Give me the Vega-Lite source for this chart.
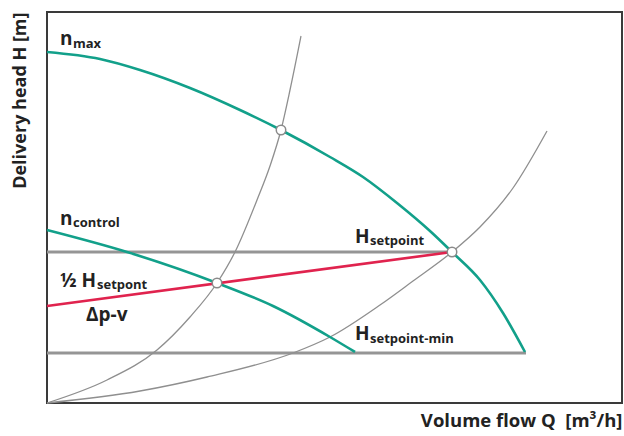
{
  "$schema": "https://vega.github.io/schema/vega-lite/v6.json",
  "width": 575,
  "height": 391,
  "autosize": {"type": "none"},
  "padding": {"left": 47, "top": 12, "right": 2, "bottom": 33},
  "background": "white",
  "config": {
    "view": {"stroke": "#3a3a3a", "strokeWidth": 2},
    "font": "Open Sans"
  },
  "datasets": {
    "curves": [
      {"series": "nmax", "Q": 0, "H": 351},
      {"series": "nmax", "Q": 53, "H": 344},
      {"series": "nmax", "Q": 93, "H": 333},
      {"series": "nmax", "Q": 143, "H": 315},
      {"series": "nmax", "Q": 193, "H": 293},
      {"series": "nmax", "Q": 234, "H": 273},
      {"series": "nmax", "Q": 283, "H": 246},
      {"series": "nmax", "Q": 316, "H": 226},
      {"series": "nmax", "Q": 350, "H": 200},
      {"series": "nmax", "Q": 383, "H": 172},
      {"series": "nmax", "Q": 405, "H": 151},
      {"series": "nmax", "Q": 433, "H": 123},
      {"series": "nmax", "Q": 456, "H": 90},
      {"series": "nmax", "Q": 478, "H": 51},
      {"series": "ncontrol", "Q": 0, "H": 173},
      {"series": "ncontrol", "Q": 80, "H": 151},
      {"series": "ncontrol", "Q": 170, "H": 120},
      {"series": "ncontrol", "Q": 226, "H": 97},
      {"series": "ncontrol", "Q": 283, "H": 66},
      {"series": "ncontrol", "Q": 308, "H": 51},
      {"series": "dpv", "Q": 0, "H": 97},
      {"series": "dpv", "Q": 405, "H": 151},
      {"series": "hset", "Q": 0, "H": 151},
      {"series": "hset", "Q": 405, "H": 151},
      {"series": "hmin", "Q": 0, "H": 50},
      {"series": "hmin", "Q": 479, "H": 50},
      {"series": "sys1", "Q": 0, "H": 0},
      {"series": "sys1", "Q": 60, "H": 23},
      {"series": "sys1", "Q": 110, "H": 53},
      {"series": "sys1", "Q": 143, "H": 86},
      {"series": "sys1", "Q": 170, "H": 120},
      {"series": "sys1", "Q": 188, "H": 151},
      {"series": "sys1", "Q": 210, "H": 203},
      {"series": "sys1", "Q": 223, "H": 237},
      {"series": "sys1", "Q": 234, "H": 273},
      {"series": "sys1", "Q": 243, "H": 313},
      {"series": "sys1", "Q": 254, "H": 367},
      {"series": "sys2", "Q": 0, "H": 0},
      {"series": "sys2", "Q": 93, "H": 12},
      {"series": "sys2", "Q": 160, "H": 26},
      {"series": "sys2", "Q": 246, "H": 50},
      {"series": "sys2", "Q": 283, "H": 66},
      {"series": "sys2", "Q": 333, "H": 98},
      {"series": "sys2", "Q": 366, "H": 122},
      {"series": "sys2", "Q": 405, "H": 151},
      {"series": "sys2", "Q": 433, "H": 176},
      {"series": "sys2", "Q": 466, "H": 215},
      {"series": "sys2", "Q": 500, "H": 272}
    ],
    "points": [
      {"Q": 234, "H": 273},
      {"Q": 170, "H": 120},
      {"Q": 405, "H": 151}
    ],
    "mainLabels": [
      {"Q": 13, "H": 358, "text": "n"},
      {"Q": 13, "H": 178, "text": "n"},
      {"Q": 13, "H": 116, "text": "½ H"},
      {"Q": 39, "H": 82, "text": "Δp-v"},
      {"Q": 308, "H": 160, "text": "H"},
      {"Q": 308, "H": 63, "text": "H"}
    ],
    "subLabels": [
      {"Q": 26, "H": 355, "text": "max"},
      {"Q": 26, "H": 176, "text": "control"},
      {"Q": 50, "H": 114, "text": "setpont"},
      {"Q": 323, "H": 158, "text": "setpoint"},
      {"Q": 323, "H": 60, "text": "setpoint-min"}
    ]
  },
  "encoding": {
    "x": {
      "field": "Q", "type": "quantitative",
      "scale": {"domain": [0, 575], "nice": false, "zero": false},
      "axis": {
        "title": "Volume flow Q\u00a0\u00a0[m³/h]",
        "labels": false, "ticks": false, "domain": false, "grid": false,
        "titleFont": "Open Sans", "titleFontSize": 18.5, "titleFontWeight": "bold",
        "titleColor": "#222222", "titleAlign": "right", "titleAnchor": "end",
        "titleBaseline": "alphabetic", "titleX": 575, "titleY": 23
      }
    },
    "y": {
      "field": "H", "type": "quantitative",
      "scale": {"domain": [0, 391], "nice": false, "zero": false},
      "axis": {
        "title": "Delivery head H [m]",
        "labels": false, "ticks": false, "domain": false, "grid": false,
        "titleFont": "Open Sans", "titleFontSize": 18, "titleFontWeight": "bold",
        "titleColor": "#222222", "titleAngle": 270, "titleAlign": "right",
        "titleAnchor": "end", "titleBaseline": "alphabetic",
        "titleX": -22, "titleY": 0
      }
    }
  },
  "layer": [
    {
      "data": {"name": "curves"},
      "transform": [{"filter": "datum.series === 'hset' || datum.series === 'hmin'"}],
      "mark": {"type": "line", "color": "#959595", "strokeWidth": 3},
      "encoding": {"detail": {"field": "series"}}
    },
    {
      "data": {"name": "curves"},
      "transform": [{"filter": "datum.series === 'sys1' || datum.series === 'sys2'"}],
      "mark": {"type": "line", "color": "#8f8f8f", "strokeWidth": 1.3, "interpolate": "monotone"},
      "encoding": {"detail": {"field": "series"}}
    },
    {
      "data": {"name": "curves"},
      "transform": [{"filter": "datum.series === 'nmax' || datum.series === 'ncontrol'"}],
      "mark": {"type": "line", "color": "#12a08a", "strokeWidth": 2.6, "interpolate": "monotone"},
      "encoding": {"detail": {"field": "series"}}
    },
    {
      "data": {"name": "curves"},
      "transform": [{"filter": "datum.series === 'dpv'"}],
      "mark": {"type": "line", "color": "#e0234e", "strokeWidth": 2.6},
      "encoding": {}
    },
    {
      "data": {"name": "points"},
      "mark": {"type": "point", "shape": "circle", "filled": true, "fill": "white", "stroke": "#8a8a8a", "strokeWidth": 1.5, "size": 90, "opacity": 1},
      "encoding": {}
    },
    {
      "data": {"name": "mainLabels"},
      "mark": {"type": "text", "align": "left", "baseline": "alphabetic", "font": "Open Sans", "fontSize": 19, "fontWeight": "bold", "color": "#222222"},
      "encoding": {"text": {"field": "text"}}
    },
    {
      "data": {"name": "subLabels"},
      "mark": {"type": "text", "align": "left", "baseline": "alphabetic", "font": "Open Sans", "fontSize": 13, "fontWeight": "bold", "color": "#222222"},
      "encoding": {"text": {"field": "text"}}
    }
  ]
}
